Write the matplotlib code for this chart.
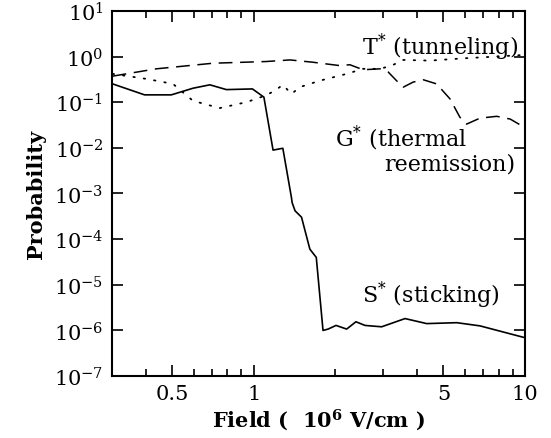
import matplotlib
matplotlib.use("Agg")
import matplotlib.pyplot as plt
from matplotlib.ticker import FixedLocator, FixedFormatter, NullFormatter, LogLocator

plt.rcParams['font.family'] = ['DejaVu Serif']
plt.rcParams['mathtext.fontset'] = 'dejavuserif'

# S* (sticking) - solid
s_field = [0.302, 0.396, 0.497, 0.597, 0.689, 0.793, 0.989, 1.09, 1.178, 1.28, 1.377,
           1.385, 1.42, 1.50, 1.61, 1.70, 1.80, 1.88, 2.01, 2.20, 2.38, 2.57, 2.96,
           3.61, 4.34, 5.60, 6.82, 10.0]
s_prob = [10**-0.60, 10**-0.84, 10**-0.84, 10**-0.695, 10**-0.62, 10**-0.725, 10**-0.71,
          10**-0.89, 10**-2.05, 10**-2.01, 10**-3.09, 10**-3.20, 10**-3.38, 10**-3.52,
          10**-4.22, 10**-4.40, 10**-6.0, 10**-5.97, 10**-5.89, 10**-5.97, 10**-5.81,
          10**-5.89, 10**-5.92, 10**-5.74, 10**-5.85, 10**-5.83, 10**-5.90, 10**-6.16]

# G* (thermal reemission) - dashed
g_field = [0.302, 0.437, 0.708, 1.11, 1.36, 1.65, 2.08, 2.26, 2.53, 2.92, 3.13, 3.36,
           3.56, 3.87, 4.22, 4.72, 5.29, 5.75, 6.09, 6.82, 7.86, 8.81, 10.0]
g_prob = [10**-0.43, 10**-0.27, 10**-0.147, 10**-0.11, 10**-0.075, 10**-0.125, 10**-0.2,
          10**-0.18, 10**-0.29, 10**-0.27, 10**-0.34, 10**-0.53, 10**-0.67, 10**-0.56,
          10**-0.51, 10**-0.60, 10**-0.93, 10**-1.33, 10**-1.48, 10**-1.35, 10**-1.31,
          10**-1.37, 10**-1.56]

# T* (tunneling) - dotted
t_field = [0.302, 0.402, 0.504, 0.597, 0.749, 0.94, 1.10, 1.195, 1.28, 1.377, 1.48,
           1.75, 2.20, 2.53, 2.92, 3.22, 3.56, 4.46, 5.92, 7.86, 10.0]
t_prob = [10**-0.38, 10**-0.49, 10**-0.60, 10**-0.97, 10**-1.13, 10**-1.0, 10**-0.86,
          10**-0.75, 10**-0.62, 10**-0.82, 10**-0.67, 10**-0.53, 10**-0.38, 10**-0.27,
          10**-0.27, 10**-0.2, 10**-0.075, 10**-0.09, 10**-0.04, 10**0.0, 10**0.035]

x_labels = ['0.5', '1', '5', '10']
x_label_pos = [0.5, 1, 5, 10]

fig = plt.figure(figsize=(5.51, 4.39), dpi=100)
ax = fig.add_axes([0.203, 0.141, 0.750, 0.832])

ax.plot(s_field, s_prob, color='black', lw=1.2, ls='-')
ax.plot(g_field, g_prob, color='black', lw=1.1, dashes=(9, 5))
ax.plot(t_field, t_prob, color='black', lw=1.3, dashes=(0.8, 5), dash_capstyle='round')

ax.set_xscale('log')
ax.set_yscale('log')
ax.set_xlim(0.3, 10)
ax.set_ylim(1e-7, 1e1)

ax.xaxis.set_major_locator(FixedLocator(x_label_pos))
ax.xaxis.set_major_formatter(FixedFormatter(x_labels))
ax.xaxis.set_minor_locator(FixedLocator([0.4, 0.6, 0.7, 0.8, 0.9, 2, 3, 4, 6, 7, 8, 9]))
ax.xaxis.set_minor_formatter(NullFormatter())
ax.yaxis.set_major_locator(LogLocator(base=10, numticks=20))
ax.yaxis.set_minor_locator(FixedLocator([]))

ax.tick_params(which='both', direction='in', top=True, right=True, width=1.2,
               labelsize=15, pad=6)
ax.tick_params(which='major', length=8)
ax.tick_params(which='minor', length=5)
for sp in ax.spines.values():
    sp.set_linewidth(1.5)

ax.set_ylabel('Probability', fontsize=15, fontweight='bold', labelpad=6)
ax.set_xlabel(r'Field (  $\mathbf{10^6}$ V/cm )', fontsize=15, fontweight='bold', labelpad=2)

ax.text(2.50, 10**0.23, r'T$^{*}$ (tunneling)', fontsize=16, ha='left', va='center')
ax.text(1.99, 10**-1.76, r'G$^{*}$ (thermal', fontsize=16, ha='left', va='center')
ax.text(9.2, 10**-2.34, 'reemission)', fontsize=16, ha='right', va='center')
ax.text(2.50, 10**-5.21, r'S$^{*}$ (sticking)', fontsize=16, ha='left', va='center')

fig.savefig('out.png', dpi=100)
